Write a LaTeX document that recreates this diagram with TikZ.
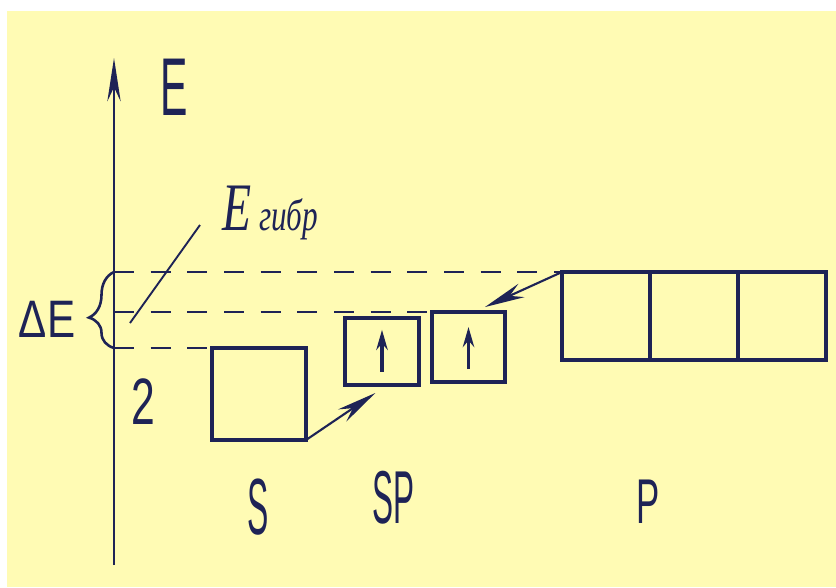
\documentclass[tikz,border=0pt]{standalone}
\usepackage{fontspec}
\setmainfont{Liberation Sans}
\newfontfamily\handfont{Liberation Serif}
\usetikzlibrary{arrows.meta,decorations.pathreplacing,positioning}
\definecolor{paper}{HTML}{FFFBB4}
\definecolor{ink}{HTML}{1E2356}
\tikzset{
  pen/.style={draw=ink,line width=2.2pt},
  cell/.style={draw=ink,line width=3pt,inner sep=0pt,outer sep=0pt},
  level/.style={draw=ink,line width=2.4pt,dash pattern=on 6mm off 5mm},
  lead/.style={draw=ink,line width=1.8pt,-{Stealth[length=12mm,width=4.4mm]}},
  spin/.style={draw=ink,line width=2.8pt,-{Stealth[length=6mm,width=3.4mm]}},
  lbl/.style={text=ink,inner sep=0pt}
}
\begin{document}
\begin{tikzpicture}[x=0.3mm,y=-0.3mm]
  \useasboundingbox (0,0) rectangle (836,587);
  \fill[white] (0,0) rectangle (836,587);
  \fill[paper] (7,11) rectangle (836,587);
  \coordinate (o) at (114,565);
  \coordinate (top) at (114,58);
  \draw[pen,-{Stealth[length=13mm,width=4mm]}] (o) -- (top);
  \node[lbl,font=\fontsize{70}{70}\selectfont] (eaxis) at (174,87) {\scalebox{0.5}[1]{E}};
  \node[cell,minimum width=28.2mm,minimum height=27.6mm] (s) at (259,394) {};
  \node[cell,minimum width=22.2mm,minimum height=20.1mm] (sp1) at (382,351.5) {};
  \node[cell,minimum width=21.9mm,minimum height=21mm] (sp2) at (468.5,347) {};
  \node[cell,minimum size=26.4mm] (p1) at (606,316) {};
  \node[cell,minimum size=26.4mm,right=0pt of p1] (p2) {};
  \node[cell,minimum size=26.4mm,right=0pt of p2] (p3) {};
  \draw[spin] ([yshift=-6mm]sp1.center) -- ([yshift=6.5mm]sp1.center);
  \draw[spin] ([yshift=-6.6mm]sp2.center) -- ([yshift=6mm]sp2.center);
  \draw[level] (o |- p1.north west) -- (p1.north west);
  \draw[level] (o |- sp2.north west) -- (sp2.north west);
  \draw[level] (o |- s.north west) -- (s.north west);
  \draw[pen,decorate,decoration={brace,amplitude=7.5mm,aspect=0.4}] (o |- s.north west) -- (o |- p1.north west);
  \node[lbl,font=\fontsize{45}{45}\selectfont] (de) at (47,319) {\scalebox{0.8}[1]{ΔE}};
  \node[lbl,font=\fontsize{56}{56}\selectfont] (two) at (143,402) {\scalebox{0.65}[1]{2}};
  \node[lbl,anchor=base west] (ehyb) at (222,230) {\handfont\itshape\scalebox{0.7}[1]{\fontsize{58}{58}\selectfont E\,\fontsize{38}{38}\selectfont гибр}};
  \coordinate (hyb) at (130,323);
  \draw[pen,line width=1.6pt] ([xshift=-6.6mm,yshift=1.5mm]ehyb.base west) -- (hyb);
  \draw[lead] (s.south east) -- ([xshift=-2mm,yshift=-2.4mm]sp1.south);
  \draw[lead] (p1.north west) -- ([xshift=-6mm,yshift=1.5mm]sp2.north east);
  \node[lbl,font=\fontsize{68}{68}\selectfont] (slbl) at (258,507) {\scalebox{0.4}[1]{S}};
  \node[lbl,font=\fontsize{64}{64}\selectfont] (splbl) at (393,498) {\scalebox{0.42}[1]{SP}};
  \node[lbl,font=\fontsize{54}{54}\selectfont] (plbl) at (648,502) {\scalebox{0.55}[1]{P}};
\end{tikzpicture}
\end{document}
